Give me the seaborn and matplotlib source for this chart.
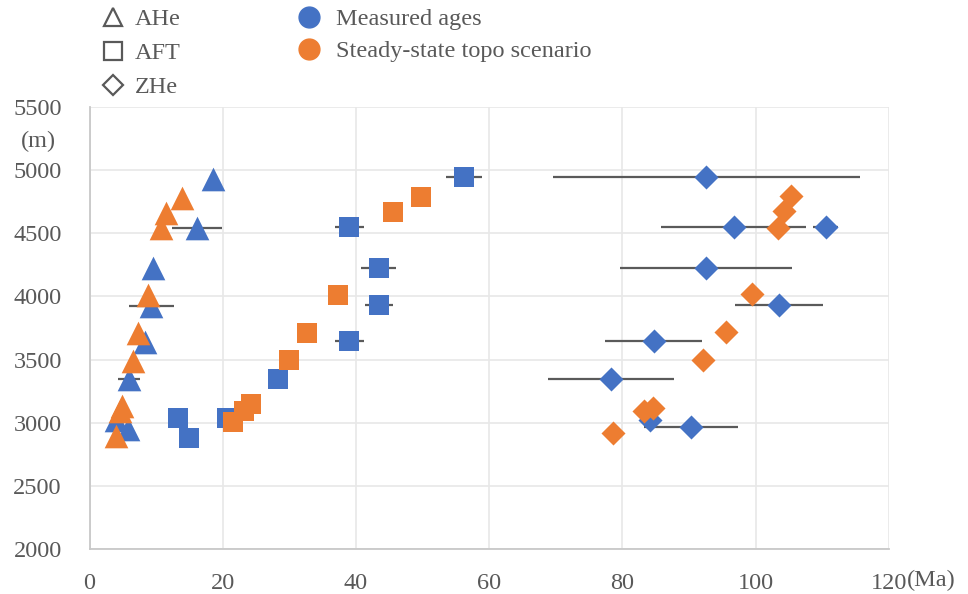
import numpy as np
import pandas as pd
import matplotlib
matplotlib.use("Agg")
import matplotlib.pyplot as plt
from matplotlib.lines import Line2D
import seaborn as sns

# measured ages (Ma), elevations (m), half-width of error bars (Ma)
ahe_age = [18.6, 16.1, 9.5, 9.3, 8.4, 5.9, 4.0, 5.8]
ahe_elev = [4930, 4545, 4222, 3925, 3635, 3345, 3020, 2950]
ahe_err = [0, 3.75, 0, 3.35, 0, 1.65, 0, 0]

aft_age = [56.2, 39.0, 43.4, 43.4, 39.0, 28.3, 13.3, 15.0, 20.7]
aft_elev = [4945, 4550, 4228, 3932, 3645, 3347, 3040, 2882, 3035]
aft_err = [2.7, 2.2, 2.6, 2.1, 2.15, 0, 0, 0, 0]

zhe_age = [92.6, 96.7, 110.5, 92.6, 103.5, 84.7, 78.3, 84.1, 90.3]
zhe_elev = [4945, 4549, 4549, 4228, 3932, 3645, 3347, 3025, 2967]
zhe_err = [23.0, 10.9, 1.9, 12.9, 6.6, 7.3, 9.5, 0, 7.0]

# steady-state topography model predictions
ahe_mod_age = [13.9, 11.5, 10.7, 8.8, 7.2, 6.5, 4.9, 4.6, 3.9]
ahe_mod_elev = [4781, 4662, 4544, 4011, 3714, 3490, 3130, 3090, 2896]

aft_mod_age = [49.7, 45.6, 37.3, 32.6, 29.9, 24.2, 23.2, 21.5]
aft_mod_elev = [4789, 4668, 4011, 3714, 3495, 3147, 3094, 3007]

zhe_mod_age = [105.3, 104.3, 103.3, 99.5, 95.6, 92.1, 84.6, 83.2, 78.6]
zhe_mod_elev = [4794, 4676, 4544, 4017, 3719, 3497, 3120, 3090, 2915]

blue = "#4472C4"
orange = "#ED7D31"
grey_txt = "#595959"

sns.set_style("white")
plt.rcParams['font.family'] = ['Liberation Serif', 'DejaVu Serif']

fig = plt.figure(figsize=(9.68, 5.94), dpi=100)
ax = fig.add_axes([0.0925, 0.0758, 0.8258, 0.7441])

systems = [
    ("AHe", "^", 290, ahe_age, ahe_elev, ahe_err, ahe_mod_age, ahe_mod_elev),
    ("AFT", "s", 210, aft_age, aft_elev, aft_err, aft_mod_age, aft_mod_elev),
    ("ZHe", "D", 150, zhe_age, zhe_elev, zhe_err, zhe_mod_age, zhe_mod_elev),
]

# error bars first, under the markers
for name, mk, s, age, elev, err, mage, melev in systems:
    ax.errorbar(age, elev, xerr=err, fmt="none", ecolor="#5a5a5a",
                elinewidth=1.6, capsize=0, zorder=2)

for name, mk, s, age, elev, err, mage, melev in systems:
    meas = pd.DataFrame({"age": age, "elev": elev})
    mod = pd.DataFrame({"age": mage, "elev": melev})
    sns.scatterplot(data=meas, x="age", y="elev", marker=mk, s=s, color=blue,
                    linewidth=0, ax=ax, zorder=3)
    sns.scatterplot(data=mod, x="age", y="elev", marker=mk, s=s, color=orange,
                    linewidth=0, ax=ax, zorder=4)

ax.set_xlim(0, 120)
ax.set_ylim(2000, 5500)
ax.set_xticks(np.arange(0, 121, 20))
ax.set_yticks(np.arange(2000, 5501, 500))
ax.set_xlabel("")
ax.set_ylabel("")
ax.grid(True, color="#e8e8e8", linewidth=1.2)
ax.set_axisbelow(True)
for side in ["top", "right"]:
    ax.spines[side].set_visible(False)
for side in ["left", "bottom"]:
    ax.spines[side].set_color("#c8c8c8")
    ax.spines[side].set_linewidth(1.3)
ax.tick_params(axis="both", length=0, labelsize=17.5, colors=grey_txt)
ax.tick_params(axis="x", pad=17)
ax.tick_params(axis="y", pad=20)

fig.text(0.022, 0.762, "(m)", fontsize=17.5, color=grey_txt, ha="left", va="center")
fig.text(0.937, 0.022, "(Ma)", fontsize=17.5, color=grey_txt, ha="left", va="center")

shape_handles = [
    Line2D([], [], marker="^", ls="none", mfc="none", mec=grey_txt, mew=1.6, ms=13),
    Line2D([], [], marker="s", ls="none", mfc="none", mec=grey_txt, mew=1.6, ms=13),
    Line2D([], [], marker="D", ls="none", mfc="none", mec=grey_txt, mew=1.6, ms=10),
]
leg1 = fig.legend(shape_handles, ["AHe", "AFT", "ZHe"], loc="upper left",
                  bbox_to_anchor=(0.087, 1.011), frameon=False, fontsize=17.5,
                  labelspacing=0.5, handletextpad=0.3, handlelength=1.2,
                  borderpad=0.1, labelcolor=grey_txt)

color_handles = [
    Line2D([], [], marker="o", ls="none", mfc=blue, mec=blue, ms=15),
    Line2D([], [], marker="o", ls="none", mfc=orange, mec=orange, ms=15),
]
leg2 = fig.legend(color_handles, ["Measured ages", "Steady-state topo scenario"],
                  loc="upper left", bbox_to_anchor=(0.289, 1.011), frameon=False,
                  fontsize=17.5, labelspacing=0.42, handletextpad=0.5,
                  handlelength=1.2, borderpad=0.1, labelcolor=grey_txt)

fig.savefig("out.png", dpi=100)
